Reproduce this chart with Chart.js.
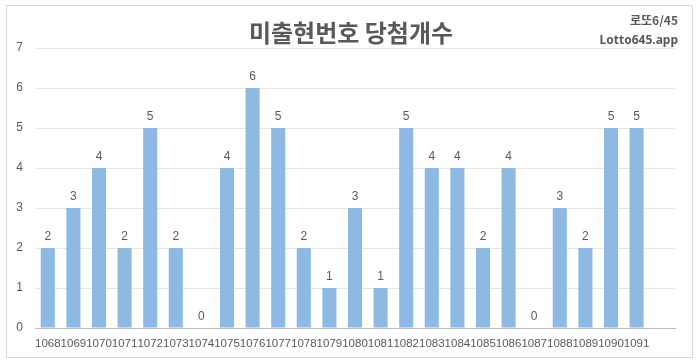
<!DOCTYPE html>
<html>
<head>
<meta charset="utf-8">
<script src="https://cdn.jsdelivr.net/npm/chart.js@4"></script>
<style>
  html, body { margin: 0; padding: 0; background: #fff; }
  #wrap { width: 700px; height: 362px; position: relative; }
</style>
</head>
<body>
<div id="wrap"><canvas id="chart" width="700" height="362"></canvas></div>
<script>
// 회차 (last slot is an empty category, as in the original)
const rounds = ["1068","1069","1070","1071","1072","1073","1074","1075","1076","1077","1078","1079",
  "1080","1081","1082","1083","1084","1085","1086","1087","1088","1089","1090","1091",""];
const counts = [2,3,4,2,5,2,0,4,6,5,2,1,3,1,5,4,4,2,4,0,3,2,5,5,null];
const yTicks = [0,1,2,3,4,5,6,7];

const title = "미출현번호 당첨개수";
const brand = ["로또6/45", "Lotto645.app"];

const textGray = "#595959";
const barColor = "#8db9e3";

// frame, title, brand text and value labels
const decor = {
  id: "decor",
  beforeDraw(chart) {
    const c = chart.ctx;
    c.save();
    c.fillStyle = "#fff";
    c.fillRect(0, 0, chart.width, chart.height);
    c.strokeStyle = "#d9d9d9";
    c.lineWidth = 1;
    c.strokeRect(6.5, 5.5, 686, 352);
    c.restore();
  },
  afterDatasetsDraw(chart) {
    const c = chart.ctx;
    c.save();
    c.fillStyle = textGray;
    c.textAlign = "center";
    c.textBaseline = "middle";
    c.font = "bold 24px 'Noto Sans CJK KR'";
    c.fillText(title, 351, 33);

    c.textAlign = "right";
    c.font = "bold 12px 'Noto Sans CJK KR'";
    c.fillText(brand[0], 678, 20);
    c.font = "bold 12px 'Noto Sans'";
    c.fillText(brand[1], 678, 41);

    c.textAlign = "center";
    c.font = "12px 'Liberation Sans'";
    const meta = chart.getDatasetMeta(0);
    meta.data.forEach((bar, i) => {
      if (counts[i] == null) return;
      c.fillText(String(counts[i]), bar.x, bar.y - 11);
    });
    c.restore();
  }
};

new Chart(document.getElementById("chart"), {
  type: "bar",
  data: {
    labels: rounds,
    datasets: [{
      data: counts,
      backgroundColor: barColor,
      borderWidth: 0,
      barPercentage: 1,
      categoryPercentage: 0.55
    }]
  },
  options: {
    responsive: false,
    animation: false,
    layout: { padding: { top: 48, left: 6, right: 25, bottom: 0 } },
    plugins: {
      legend: { display: false },
      tooltip: { enabled: false }
    },
    scales: {
      x: {
        grid: { display: false, drawTicks: false },
        border: { color: "#bfbfbf", width: 1 },
        ticks: {
          autoSkip: false,
          maxRotation: 0,
          padding: 9,
          color: textGray,
          font: { family: "'Liberation Sans'", size: 11.5 }
        },
        afterFit(s) { s.height = 34; }
      },
      y: {
        min: 0,
        max: 7,
        afterBuildTicks(s) { s.ticks = yTicks.map(v => ({ value: v })); },
        grid: { color: "#e6e6e6", drawTicks: false },
        border: { display: false },
        ticks: {
          padding: 12,
          color: textGray,
          font: { family: "'Liberation Sans'", size: 12 }
        },
        afterFit(s) { s.width = 29; }
      }
    }
  },
  plugins: [decor]
});
</script>
</body>
</html>
